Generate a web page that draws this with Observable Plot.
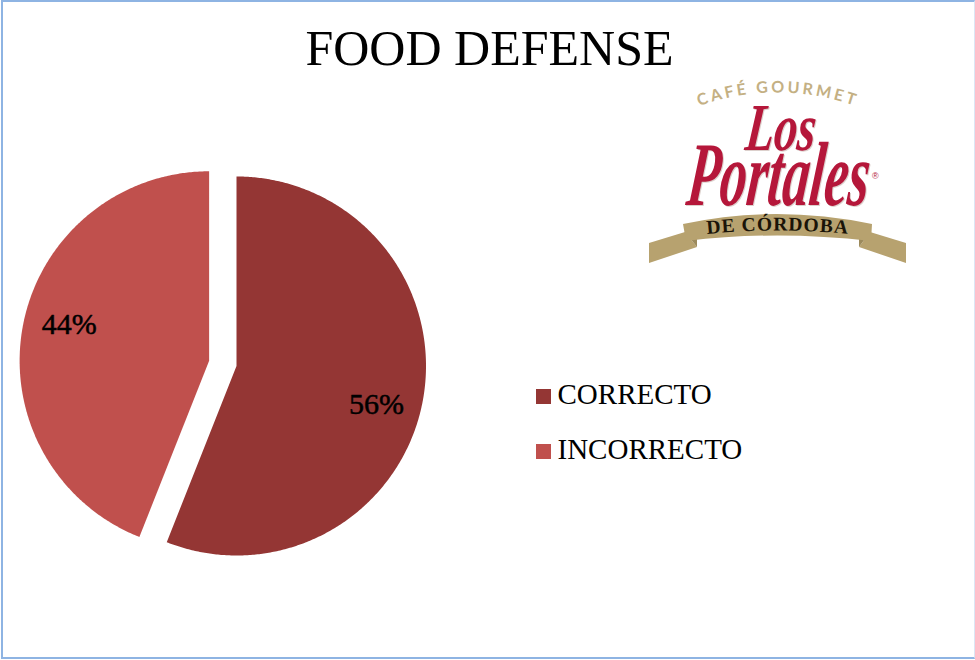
<!DOCTYPE html>
<html lang="es">
<head>
<meta charset="utf-8">
<script src="https://cdn.jsdelivr.net/npm/d3@7"></script>
<script src="https://cdn.jsdelivr.net/npm/@observablehq/plot@0.6"></script>
<style>
  html, body { margin: 0; background: #fff; }
  #page { position: relative; width: 975px; height: 660px; overflow: hidden; font-family: "Liberation Serif", serif; color: #000; }
  #frame { position: absolute; left: 1px; top: 0; width: 974px; height: 659px; box-sizing: border-box;
           border: 2px solid #8eb4e3; border-right: 1px solid #dce6f4; pointer-events: none; }
  #title { position: absolute; left: 0; top: 19px; width: 979px; text-align: center; font-size: 50px; line-height: 58px; }
  .key { position: absolute; left: 536px; height: 40px; font-size: 29px; line-height: 40px; white-space: nowrap; }
  .key i { position: absolute; left: 0; top: 15px; width: 15px; height: 15px; }
  .key span { position: absolute; left: 21.5px; top: 0; }
  #chart, #logo { position: absolute; left: 0; top: 0; }
  #chart text { font-family: "Liberation Serif", serif; }
</style>
</head>
<body>
<div id="page">
  <div id="chart"></div>
  <div id="title">FOOD DEFENSE</div>
  <div id="legend"></div>
  <div id="logo"></div>
  <div id="frame"></div>
</div>
<script>
// Survey result: share of answers per category
const categories = ["CORRECTO", "INCORRECTO"];
const percentages = [56, 44];
const sliceColors = ["#943634", "#c0504d"];
// Pulled-out distance of each slice, in pie radii
const explode = [0, 0.147];

// Pie layout: pixels per radius and pie centre on the page
const R = 189.5, cx = 236, cy = 365.5;
const width = 975, height = 660;

const arcs = d3.pie().sort(null)(percentages);

// Outline of each slice, in units of the radius with y pointing up
const outlines = arcs.flatMap((a, i) => {
  const mid = (a.startAngle + a.endAngle) / 2;
  const ox = explode[i] * Math.sin(mid), oy = explode[i] * Math.cos(mid);
  const steps = Math.ceil((a.endAngle - a.startAngle) / (Math.PI / 360));
  const rim = d3.range(steps + 1).map((k) => {
    const t = a.startAngle + (a.endAngle - a.startAngle) * k / steps;
    return {category: categories[i], x: ox + Math.sin(t), y: oy + Math.cos(t)};
  });
  return [{category: categories[i], x: ox, y: oy}, ...rim, {category: categories[i], x: ox, y: oy}];
});

// Percentage labels sit at three quarters of the radius, a little past each slice's middle
const labels = arcs.map((a, i) => {
  const mid = (a.startAngle + a.endAngle) / 2;
  const ox = explode[i] * Math.sin(mid), oy = explode[i] * Math.cos(mid);
  const t = mid + 0.075;
  return {text: `${percentages[i]}%`, x: ox + 0.765 * Math.sin(t), y: oy + 0.765 * Math.cos(t)};
});

const plot = Plot.plot({
  width, height,
  margin: 0,
  x: {domain: [-cx / R, (width - cx) / R], range: [0, width], axis: null},
  y: {domain: [cy / R, (cy - height) / R], range: [0, height], axis: null},
  color: {domain: categories, range: sliceColors},
  style: {background: "transparent"},
  marks: [
    Plot.line(outlines, {x: "x", y: "y", z: "category", fill: "category", stroke: "none", curve: "linear"}),
    Plot.text(labels, {
      x: "x", y: "y", text: "text", dy: 1,
      fontSize: 30,
      fill: "#000", stroke: "#000", strokeWidth: 0.5
    })
  ]
});
document.getElementById("chart").append(plot);

// Legend entries
const legend = document.getElementById("legend");
categories.forEach((c, i) => {
  const key = document.createElement("div");
  key.className = "key";
  key.style.top = `${374 + i * 55}px`;
  key.innerHTML = `<i style="background:${sliceColors[i]}"></i><span>${c}</span>`;
  legend.append(key);
});

// Brand mark in the upper right corner
const logo = d3.select("#logo").append("svg").attr("width", width).attr("height", height)
  .style("display", "block");
const defs = logo.append("defs");
defs.append("path").attr("id", "cafeArc").attr("d", "M699,106 Q776,79 856,106");
defs.append("path").attr("id", "ribbonArc").attr("d", "M707,234 Q777,227 850,234");

const gold = "#b7a26f";
logo.append("path").attr("fill", gold)
  .attr("d", "M649,243 L685,232 L697,247 L649,263 Z");
logo.append("path").attr("fill", gold)
  .attr("d", "M906,243 L870,232 L859,247 L906,263 Z");
logo.append("path").attr("fill", "#9c8a5c")
  .attr("d", "M685,232 L697,230 L697,247 Z M870,232 L859,230 L859,247 Z");
logo.append("path").attr("fill", gold)
  .attr("d", "M683,224 Q776,204 872,224 L871,241 Q776,230 686,241 Z");

logo.append("text")
  .attr("font-family", "Lato, sans-serif").attr("font-weight", 700)
  .attr("font-size", 16).attr("fill", "#c4b083")
  .append("textPath").attr("href", "#cafeArc").attr("textLength", 158)
  .text("CAFÉ GOURMET");

const script = logo.append("g")
  .attr("font-family", "Liberation Serif").attr("font-style", "italic").attr("font-weight", 700)
  .attr("fill", "#b5173a").style("filter", "drop-shadow(1px 1px 0 #dcd0cc)");
script.append("text")
  .attr("transform", "translate(744,150) skewX(-6) scale(1,1.2)")
  .attr("font-size", 56).attr("textLength", 70).attr("lengthAdjust", "spacingAndGlyphs")
  .text("Los");
script.append("text")
  .attr("transform", "translate(685,205) skewX(-6) scale(1,1.3)")
  .attr("font-size", 70).attr("textLength", 182).attr("lengthAdjust", "spacingAndGlyphs")
  .text("Portales");
logo.append("text").attr("x", 872).attr("y", 179)
  .attr("font-family", "Liberation Sans").attr("font-size", 9).attr("fill", "#b5173a")
  .text("®");

logo.append("text")
  .attr("font-family", "Liberation Serif").attr("font-weight", 700)
  .attr("font-size", 19.5).attr("letter-spacing", 1).attr("fill", "#1a1408")
  .append("textPath").attr("href", "#ribbonArc")
  .text("DE CÓRDOBA");
</script>
</body>
</html>
